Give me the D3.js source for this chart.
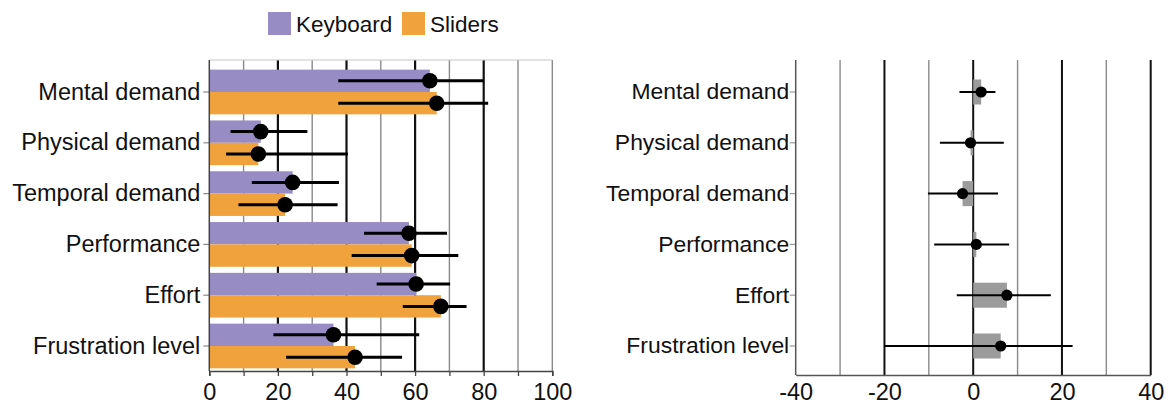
<!DOCTYPE html>
<html><head><meta charset="utf-8">
<script src="https://cdn.jsdelivr.net/npm/d3@7"></script>
<style>
html,body{margin:0;padding:0;background:#fff;}
text{font-family:"Liberation Sans",Arial,Helvetica,sans-serif;fill:#111;}
</style></head>
<body>
<svg id="c" width="1169" height="408"></svg>
<script>
const categories = ["Mental demand","Physical demand","Temporal demand","Performance","Effort","Frustration level"];
const seriesNames = ["Keyboard","Sliders"];
const keyboardMean = [64.3, 15.0, 24.3, 58.2, 60.3, 36.2];
const keyboardLow  = [37.6, 6.2, 12.4, 45.1, 48.8, 18.7];
const keyboardHigh = [80.1, 28.6, 37.8, 69.3, 70.2, 61.2];
const slidersMean  = [66.3, 14.3, 22.1, 59.0, 67.5, 42.5];
const slidersLow   = [37.6, 4.9, 8.5, 41.5, 56.4, 22.4];
const slidersHigh  = [81.3, 40.4, 37.4, 72.6, 75.0, 56.2];
const diffMean = [1.8, -0.6, -2.4, 0.7, 7.6, 6.2];
const diffLow  = [-3.1, -7.5, -10.2, -8.8, -3.7, -20.0];
const diffHigh = [5.0, 6.9, 5.6, 8.1, 17.5, 22.4];
const leftTicks = [0,20,40,60,80,100];
const rightTicks = [-40,-20,0,20,40];

(function(){
const colors = {Keyboard:"#988cc4", Sliders:"#f0a33c"};
const svg = d3.select("#c");
const plotTop = 60, catFont = 23.5, catFontR = 22.9, tickFont = 23.5, legFont = 22.5;

const y = d3.scaleBand().domain(categories).range([66.6, 371.4]).paddingInner(0.12).paddingOuter(0.06);

// ---------- LEFT PANEL ----------
const xL = d3.scaleLinear().domain([0,100]).range([209.3, 552.3]);
const botL = 371;
const gL = svg.append("g");
d3.range(10,101,10).forEach(v=>{
  const major = v%20===0 && v!==100;
  gL.append("line").attr("x1",xL(v)).attr("x2",xL(v)).attr("y1",plotTop).attr("y2",botL)
    .attr("stroke", major?"#111":"#8a8a8a").attr("stroke-width", major?2.2:1.4);
});
gL.append("line").attr("x1",xL(0)).attr("x2",xL(100)).attr("y1",plotTop).attr("y2",plotTop)
  .attr("stroke","#c8c8c8").attr("stroke-width",1.2);

const sub = y.bandwidth()/2;
const rows = categories.map((c,i)=>({c,i}));
rows.forEach(({c,i})=>{
  gL.append("rect").attr("x",xL(0)).attr("y",y(c)).attr("width",xL(keyboardMean[i])-xL(0)).attr("height",sub).attr("fill",colors.Keyboard);
  gL.append("rect").attr("x",xL(0)).attr("y",y(c)+sub).attr("width",xL(slidersMean[i])-xL(0)).attr("height",sub).attr("fill",colors.Sliders);
});
rows.forEach(({c,i})=>{
  const yk = y(c)+sub*0.5, ys = y(c)+sub*1.5;
  [[keyboardLow[i],keyboardHigh[i],keyboardMean[i],yk],[slidersLow[i],slidersHigh[i],slidersMean[i],ys]].forEach(([lo,hi,m,yy])=>{
    gL.append("line").attr("x1",xL(lo)).attr("x2",xL(hi)).attr("y1",yy).attr("y2",yy).attr("stroke","#000").attr("stroke-width",3);
    gL.append("circle").attr("cx",xL(m)).attr("cy",yy).attr("r",7.8).attr("fill","#000");
  });
});
const axL = gL.append("g").attr("transform",`translate(0,${botL})`)
  .call(d3.axisBottom(xL).tickValues(d3.range(0,101,10)).tickSize(5).tickFormat(d=>leftTicks.includes(d)?String(d):""));
axL.select(".domain").attr("stroke","#444").attr("stroke-width",1.5);
axL.selectAll(".tick line").attr("stroke","#444").attr("stroke-width",1.3);
axL.selectAll(".tick text").attr("font-size",tickFont).attr("dy","0.95em").attr("y",7).style("fill","#111");
const ayL = gL.append("g").attr("transform",`translate(${xL(0)},0)`)
  .call(d3.axisLeft(y).tickSize(6).tickPadding(3));
ayL.select(".domain").remove();
gL.append("line").attr("x1",xL(0)).attr("x2",xL(0)).attr("y1",plotTop).attr("y2",botL).attr("stroke","#444").attr("stroke-width",1.5);
ayL.selectAll(".tick line").attr("stroke","#888").attr("stroke-width",1.2);
ayL.selectAll(".tick text").attr("font-size",catFont).style("fill","#111");

// legend
const lg = svg.append("g");
const legX = [268, 402];
seriesNames.forEach((s,i)=>{
  lg.append("rect").attr("x",legX[i]).attr("y",12).attr("width",23).attr("height",23).attr("fill",colors[s]);
  lg.append("text").attr("x",legX[i]+28).attr("y",32).attr("font-size",legFont).text(s);
});

// ---------- RIGHT PANEL ----------
const xR = d3.scaleLinear().domain([-40,40]).range([795.7, 1150.7]);
const botR = 375;
const gR = svg.append("g");
d3.range(-30,41,10).forEach(v=>{
  const major = v%20===0;
  gR.append("line").attr("x1",xR(v)).attr("x2",xR(v)).attr("y1",plotTop).attr("y2",botR)
    .attr("stroke", major?"#111":"#8a8a8a").attr("stroke-width", major?2:1.4);
});
const bh = y.bandwidth()*0.56;
rows.forEach(({c,i})=>{
  const cy = y(c)+y.bandwidth()/2;
  gR.append("rect").attr("x",Math.min(xR(0),xR(diffMean[i]))).attr("y",cy-bh/2)
    .attr("width",Math.abs(xR(diffMean[i])-xR(0))).attr("height",bh).attr("fill","#9b9b9b");
});
rows.forEach(({c,i})=>{
  const cy = y(c)+y.bandwidth()/2;
  gR.append("line").attr("x1",xR(diffLow[i])).attr("x2",xR(diffHigh[i])).attr("y1",cy).attr("y2",cy).attr("stroke","#000").attr("stroke-width",2);
  gR.append("circle").attr("cx",xR(diffMean[i])).attr("cy",cy).attr("r",5.6).attr("fill","#000");
});
const axR = gR.append("g").attr("transform",`translate(0,${botR})`)
  .call(d3.axisBottom(xR).tickValues(rightTicks).tickSize(0).tickPadding(5).tickFormat(d=>String(d)));
axR.select(".domain").attr("stroke","#555").attr("stroke-width",1.5);
axR.selectAll(".tick text").attr("font-size",tickFont).attr("dy","0.95em").attr("y",3).style("fill","#111");
const ayR = gR.append("g").attr("transform",`translate(${xR(-40)},0)`)
  .call(d3.axisLeft(y).tickSize(6).tickPadding(0.5));
ayR.select(".domain").remove();
gR.append("line").attr("x1",xR(-40)).attr("x2",xR(-40)).attr("y1",plotTop).attr("y2",botR).attr("stroke","#555").attr("stroke-width",1.5);
ayR.selectAll(".tick line").attr("stroke","#999").attr("stroke-width",1.2);
ayR.selectAll(".tick text").attr("font-size",catFontR).style("fill","#111");
})();
</script>
</body></html>
